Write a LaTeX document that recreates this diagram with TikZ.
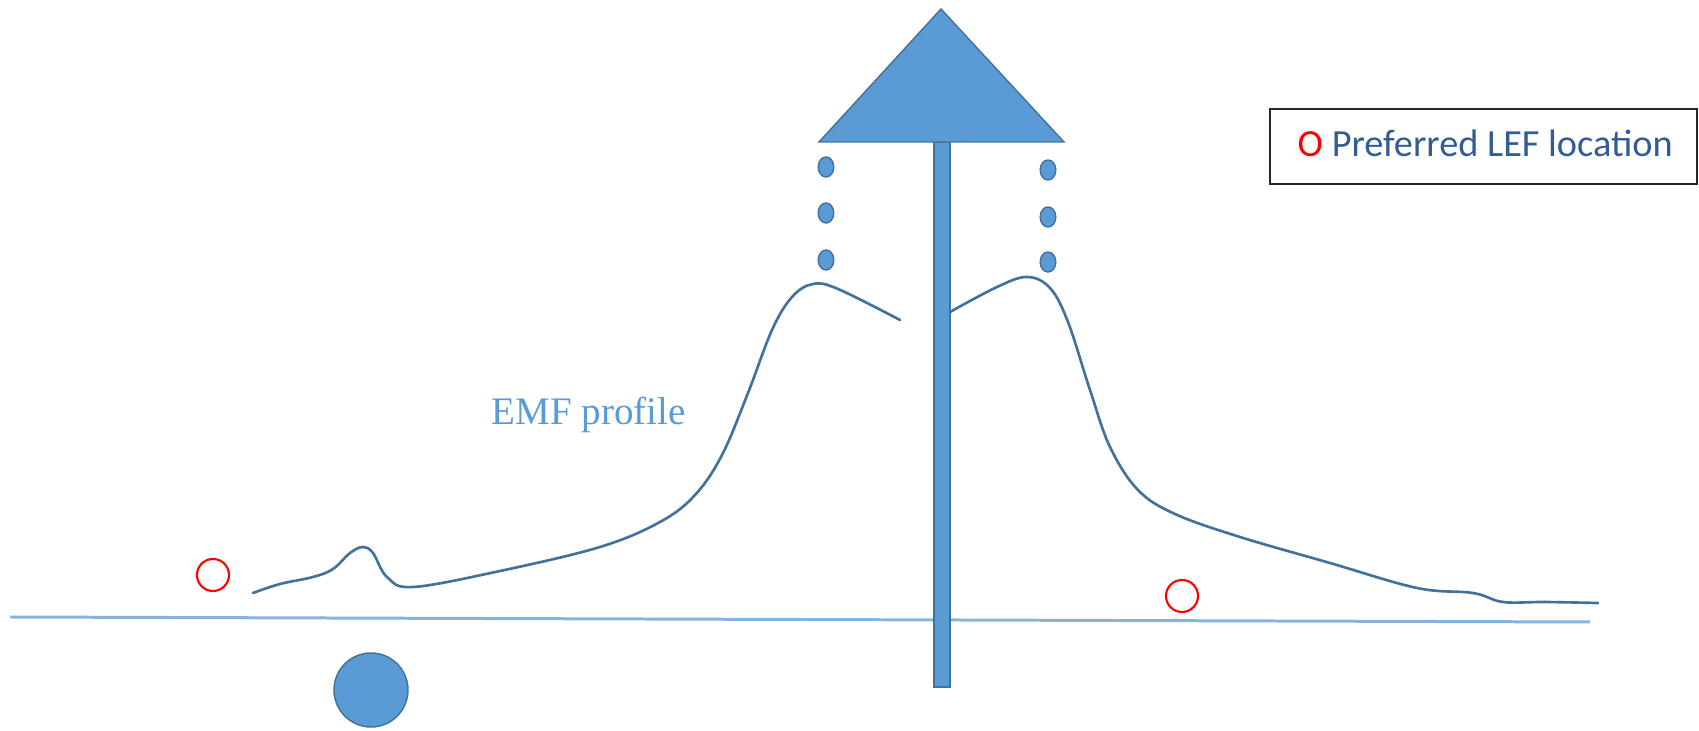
\documentclass[tikz,border=0pt]{standalone}
\usepackage{fontspec}
\setmainfont{Liberation Serif}
\newfontfamily\legendfont{Carlito}
\usepackage{tikz}
\usetikzlibrary{positioning}
\definecolor{fillblue}{HTML}{5B9BD5}
\definecolor{edgeblue}{HTML}{41719C}
\definecolor{axisblue}{HTML}{86B3E0}
\definecolor{curveblue}{HTML}{41719C}
\definecolor{legendink}{HTML}{335C96}
\definecolor{lefred}{HTML}{FF0000}
\tikzset{
  blueshape/.style={fill=fillblue,draw=edgeblue,line width=.4pt},
  lefmark/.style={draw=lefred,line width=.6pt},
  profile/.style={draw=curveblue,line width=.75pt,line cap=round,line join=round},
  axis/.style={draw=axisblue,line width=.85pt},
  label/.style={font=\fontsize{11.1}{13}\selectfont,text=fillblue,inner sep=0pt},
  legendbox/.style={draw=black!85,line width=.6pt,minimum width=4.27cm,minimum height=.75cm,inner sep=0pt},
}

\begin{document}
\begin{tikzpicture}[x=0.01cm,y=-0.01cm]
  \useasboundingbox (0,0) rectangle (1699,731);

  % baseline
  \coordinate (axisL) at (10,617);
  \coordinate (axisR) at (1590,622);
  \draw[axis] (axisL) -- (axisR);

  % mast and cap
  \draw[blueshape] (934,142) rectangle (950,687);
  \draw[blueshape] (941,9) -- (1064,142) -- (819,142) -- cycle;

  % drops under the cap
  \foreach \yy in {167,213,260}
    \draw[blueshape] (826,\yy) ellipse [x radius=.078cm,y radius=.1cm];
  \foreach \yy in {170,217,262}
    \draw[blueshape] (1048,\yy) ellipse [x radius=.078cm,y radius=.1cm];

  % ball below the line
  \draw[blueshape] (371,690) circle [radius=.37cm];

  % EMF profile, left and right of the mast
  \draw[profile] plot[smooth,tension=.6] coordinates {
    (253,593) (280,584) (313,577) (333,569) (350,553) (363,547) (373,553)
    (387,577) (413,587) (500,571) (600,547) (660,522) (695,495) (722,455)
    (748,393) (772,330) (792,297) (813,284) (838,289) (900,320)};
  \draw[profile] plot[smooth,tension=.6] coordinates {
    (950,312) (997,287) (1027,277) (1050,288) (1068,322) (1090,390)
    (1110,447) (1138,490) (1175,514) (1240,537) (1330,563) (1417,588)
    (1473,593) (1503,602) (1545,602) (1598,603)};

  % preferred locations
  \draw[lefmark] (213,575) circle [radius=.16cm];
  \draw[lefmark] (1182,596) circle [radius=.16cm];

  \node[label,anchor=base west] (emf) at (491,425) {EMF profile};

  % legend
  \node[legendbox] (legend) at (1483.5,146.5) {};
  \node[anchor=base west,inner sep=0pt,font=\legendfont\fontsize{10.9}{13}\selectfont]
    (legendtxt) at (1297,157) {\textcolor{lefred}{O} \textcolor{legendink}{Preferred LEF location}};
\end{tikzpicture}
\end{document}
